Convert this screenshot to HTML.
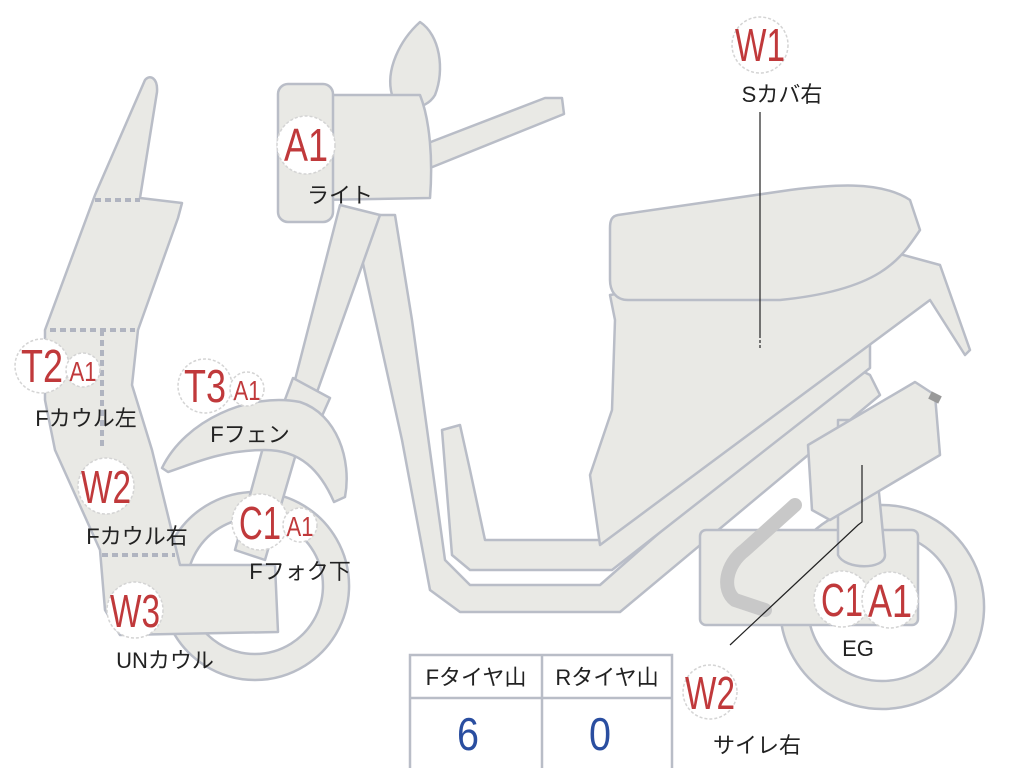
<!DOCTYPE html>
<html><head><meta charset="utf-8"><style>
html,body{margin:0;padding:0;background:#fff;width:1024px;height:768px;overflow:hidden}
svg{display:block}
.p{fill:#e9e9e5;stroke:#b9bdc7;stroke-width:2.5;stroke-linejoin:round}
.c{fill:#fff;stroke:#d4d4d4;stroke-width:1.5;stroke-dasharray:3 2}
.r{fill:#c0393b;font-family:"Liberation Sans",sans-serif;text-anchor:middle}
.k{fill:#222;font-family:"Liberation Sans","Noto Sans CJK JP",sans-serif;font-size:22px;text-anchor:middle}
.d{stroke:#b0b4c0;stroke-width:4;stroke-dasharray:6 4;fill:none}
</style></head><body>
<svg width="1024" height="768" viewBox="0 0 1024 768">
<!-- mirror -->
<path class="p" d="M420,22 C400,40 385,70 392,95 C398,112 425,112 435,95 C445,70 440,35 420,22Z"/>
<!-- handlebar -->
<path class="p" d="M410,150 L545,98 L562,98 L564,114 L425,170Z"/>
<!-- main frame -->
<path class="p" d="M360,215 L395,215 L412,320 L445,560 L470,585 L600,585 L850,365 L870,375 L880,395 L620,612 L460,612 L430,590 L402,440 L360,250Z"/>
<path class="p" d="M442,430 L460,425 L470,470 L485,540 L600,540 L855,330 L870,345 L870,368 L612,570 L470,570 L452,555Z"/>
<!-- body under seat -->
<path class="p" d="M610,295 L885,250 L940,265 L970,350 L965,355 L930,300 L600,545 L590,475 L612,410 L615,320Z"/>
<!-- seat -->
<path class="p" d="M618,215 L790,190 C830,185 880,180 910,200 L920,230 C900,260 880,290 780,300 L628,300 C615,300 610,290 610,280 L610,228 C610,220 612,216 618,215Z"/>
<!-- rear wheel -->
<path class="p" fill-rule="evenodd" d="M882,505 a102,102 0 1,0 0.1,0Z M882,533 a74,74 0 1,1 -0.1,0Z"/>
<!-- engine -->
<rect class="p" x="700" y="530" width="218" height="95" rx="6"/>
<path d="M795,505 L745,550 C725,565 722,590 735,600 L765,610" fill="none" stroke="#c8c8c8" stroke-width="14" stroke-linecap="round"/>
<path class="p" d="M838,420 L872,420 L885,555 C885,570 845,570 838,555Z"/>
<path class="p" d="M808,445 L915,382 L935,395 L940,455 L830,520 L812,510Z"/>
<path d="M930,395 L940,400" stroke="#999" stroke-width="8"/>
<!-- front wheel -->
<path class="p" fill-rule="evenodd" d="M255,492 a94,94 0 1,0 0.1,0Z M255,518 a68,68 0 1,1 -0.1,0Z"/>
<!-- fork -->
<path class="p" d="M340,205 L380,215 L300,440 L265,560 L235,550 L265,440 L295,380Z"/>
<path class="p" d="M293,378 L330,398 L318,425 L283,405Z"/>
<!-- fender -->
<path class="p" d="M162,468 C185,420 250,392 300,402 C337,414 352,460 345,497 L334,502 C320,470 300,450 265,450 C220,450 190,465 168,472Z"/>
<!-- headlight -->
<path class="p" d="M315,95 L420,95 C430,120 433,160 430,198 L315,200Z"/>
<rect class="p" x="278" y="84" width="55" height="138" rx="10"/>
<!-- front cowl -->
<path class="p" d="M45,330 L95,195 L145,80 C150,74 158,78 157,92 L140,198 L182,203 L178,218 L138,330 L132,385 L152,450 L180,565 L275,565 L278,632 L120,635 L105,610 L100,550 L55,450 L45,400Z"/>
<path class="d" d="M95,200 H140 M50,330 H135 M102,330 V450 M102,555 H175"/>
<!-- leader lines -->
<path d="M760,112 V335" stroke="#222" stroke-width="1.2" fill="none"/>
<path d="M760,335 V348" stroke="#222" stroke-width="1.2" stroke-dasharray="3 2"/>
<path d="M862,465 V522 L858,525 L730,645" stroke="#222" stroke-width="1.2" fill="none"/>
<!-- labels -->
<circle class="c" cx="760" cy="45" r="28"/><text class="r" x="760" y="61" font-size="46" textLength="50" lengthAdjust="spacingAndGlyphs">W1</text>
<text class="k" x="782" y="102">Sカバ右</text>
<circle class="c" cx="306" cy="145" r="29"/><text class="r" x="306" y="161" font-size="46" textLength="44" lengthAdjust="spacingAndGlyphs">A1</text>
<text class="k" x="340" y="203">ライト</text>
<circle class="c" cx="42" cy="366" r="27"/><text class="r" x="42" y="382" font-size="46" textLength="42" lengthAdjust="spacingAndGlyphs">T2</text>
<circle class="c" cx="83" cy="370" r="17"/><text class="r" x="83" y="381" font-size="28" textLength="27" lengthAdjust="spacingAndGlyphs">A1</text>
<text class="k" x="86" y="426">Fカウル左</text>
<circle class="c" cx="205" cy="386" r="27"/><text class="r" x="205" y="402" font-size="46" textLength="42" lengthAdjust="spacingAndGlyphs">T3</text>
<circle class="c" cx="247" cy="389" r="17"/><text class="r" x="247" y="400" font-size="28" textLength="27" lengthAdjust="spacingAndGlyphs">A1</text>
<text class="k" x="250" y="442">Fフェン</text>
<circle class="c" cx="106" cy="486" r="28"/><text class="r" x="106" y="503" font-size="46" textLength="50" lengthAdjust="spacingAndGlyphs">W2</text>
<text class="k" x="137" y="544">Fカウル右</text>
<circle class="c" cx="260" cy="522" r="28"/><text class="r" x="260" y="539" font-size="46" textLength="42" lengthAdjust="spacingAndGlyphs">C1</text>
<circle class="c" cx="300" cy="525" r="17"/><text class="r" x="300" y="536" font-size="28" textLength="27" lengthAdjust="spacingAndGlyphs">A1</text>
<text class="k" x="300" y="579">Fフォク下</text>
<circle class="c" cx="135" cy="610" r="28"/><text class="r" x="135" y="627" font-size="46" textLength="50" lengthAdjust="spacingAndGlyphs">W3</text>
<text class="k" x="165" y="668">UNカウル</text>
<circle class="c" cx="842" cy="599" r="28"/><text class="r" x="842" y="616" font-size="46" textLength="42" lengthAdjust="spacingAndGlyphs">C1</text>
<circle class="c" cx="890" cy="600" r="28"/><text class="r" x="890" y="617" font-size="46" textLength="44" lengthAdjust="spacingAndGlyphs">A1</text>
<text class="k" x="858" y="656">EG</text>
<circle class="c" cx="710" cy="692" r="27"/><text class="r" x="710" y="709" font-size="46" textLength="50" lengthAdjust="spacingAndGlyphs">W2</text>
<text class="k" x="757" y="753">サイレ右</text>
<!-- table -->
<rect x="410" y="655" width="262" height="115" fill="#fff" stroke="#b9bdc7" stroke-width="2.5"/>
<path d="M410,698 H672 M542,655 V768" stroke="#b9bdc7" stroke-width="2.5"/>
<text class="k" x="476" y="685">Fタイヤ山</text>
<text class="k" x="607" y="685">Rタイヤ山</text>
<text x="468" y="750" font-size="46" fill="#2a4ea0" font-family="Liberation Sans,sans-serif" text-anchor="middle" textLength="22" lengthAdjust="spacingAndGlyphs">6</text>
<text x="600" y="750" font-size="46" fill="#2a4ea0" font-family="Liberation Sans,sans-serif" text-anchor="middle" textLength="22" lengthAdjust="spacingAndGlyphs">0</text>
</svg>
</body></html>
